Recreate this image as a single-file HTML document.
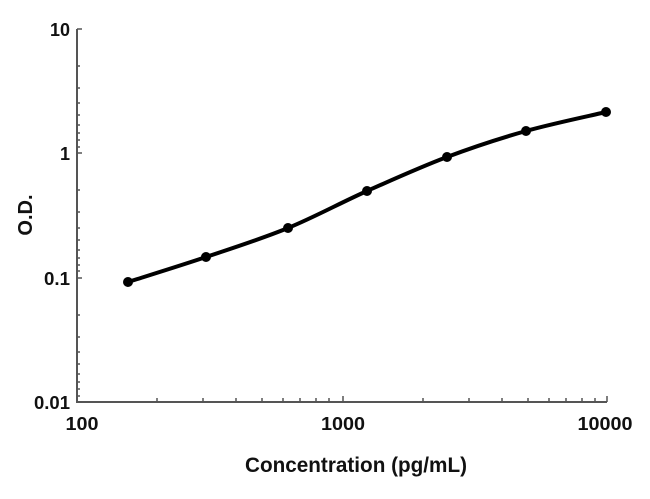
<!DOCTYPE html>
<html><head><meta charset="utf-8"><style>body{margin:0;background:#fff}</style></head><body>
<svg width="650" height="494" xmlns="http://www.w3.org/2000/svg" font-family="Liberation Sans, Arial, sans-serif" font-weight="bold">
<g stroke="#555" stroke-width="2" fill="none">
<path d="M77,29 V402 H607"/>
</g>
<g stroke="#555" stroke-width="1.5">
<path d="M77,29h5M77,153h5M77,278h5M77,402h5"/>
<path d="M77,66h3M77,88h3M77,103h3M77,115h3M77,125h3M77,133h3M77,140h3M77,147h3
M77,190h3M77,212h3M77,228h3M77,240h3M77,250h3M77,258h3M77,265h3M77,271h3
M77,315h3M77,337h3M77,352h3M77,364h3M77,374h3M77,382h3M77,389h3M77,396h3"/>
<path d="M343,402v-6M607,402v-6"/>
<path d="M157,402v-4M203,402v-4M236,402v-4M262,402v-4M283,402v-4M300,402v-4M316,402v-4M329,402v-4
M423,402v-4M469,402v-4M502,402v-4M528,402v-4M549,402v-4M566,402v-4M582,402v-4M595,402v-4"/>
</g>
<path d="M128,282 C141,277.8 179.3,266 206,257 C232.7,248 261.2,239 288,228 C314.8,217 340.5,202.8 367,191 C393.5,179.2 420.5,167 447,157 C473.5,147 499.5,138.5 526,131 C552.5,123.5 592.7,115.2 606,112" stroke="#000" stroke-width="4" fill="none"/>
<g fill="#000">
<circle cx="128" cy="282" r="5"/><circle cx="206" cy="257" r="5"/><circle cx="288" cy="228" r="5"/>
<circle cx="367" cy="191" r="5"/><circle cx="447" cy="157" r="5"/><circle cx="526" cy="131" r="5"/><circle cx="606" cy="112" r="5"/>
</g>
<g font-size="18" text-anchor="end" fill="#111">
<text x="70" y="36" textLength="20" lengthAdjust="spacingAndGlyphs">10</text><text x="70" y="160">1</text><text x="70" y="285" textLength="26" lengthAdjust="spacingAndGlyphs">0.1</text><text x="70" y="409" textLength="36" lengthAdjust="spacingAndGlyphs">0.01</text>
</g>
<g font-size="18" text-anchor="middle" fill="#111">
<text x="82" y="430" textLength="33" lengthAdjust="spacingAndGlyphs">100</text><text x="343" y="430" textLength="44" lengthAdjust="spacingAndGlyphs">1000</text><text x="605" y="430" textLength="55" lengthAdjust="spacingAndGlyphs">10000</text>
</g>
<text x="356" y="472" font-size="21" text-anchor="middle" fill="#111" textLength="222" lengthAdjust="spacingAndGlyphs">Concentration (pg/mL)</text>
<text transform="translate(32,215) rotate(-90)" font-size="20" text-anchor="middle" fill="#111">O.D.</text>
</svg>
</body></html>
